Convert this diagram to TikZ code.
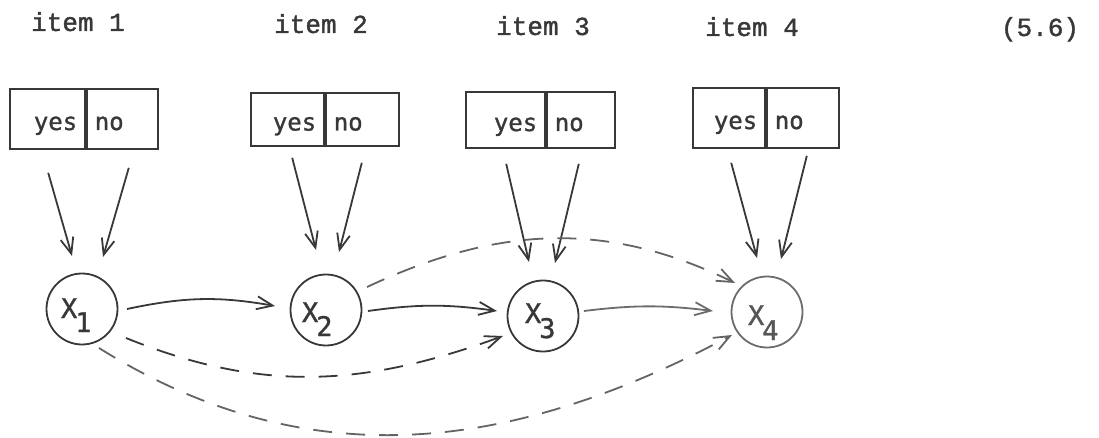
\documentclass[tikz,border=0pt]{standalone}
\usepackage{fontspec}
\newfontfamily\typ[BoldFont={Liberation Mono}, BoldFeatures={FakeBold=1.5}]{Liberation Mono}
\newfontfamily\gothic[BoldFont={DejaVu Sans Mono}, BoldFeatures={FakeBold=1.2}]{DejaVu Sans Mono}
\usetikzlibrary{arrows.meta,calc}
\definecolor{ink}{HTML}{383838}
\definecolor{inkl}{HTML}{6C6C6C}
\newcommand\xl[4]{\makebox[0pt][l]{\hspace*{#1pt}\raisebox{-#2pt}{X}\kern-2pt\raisebox{-#3pt}{#4}}}
\tikzset{
  lbl/.style={font=\typ\bfseries\fontsize{26}{26}\selectfont, text=ink, anchor=base, inner sep=0pt},
  cell/.style={draw=ink, line width=1.6pt, inner xsep=8pt, inner ysep=0pt,
    text height=22pt, text depth=0pt, font=\gothic\bfseries\fontsize{24}{24}\selectfont, text=ink},
  yescell/.style={cell, align=right, text width=#1, anchor=east},
  nocell/.style={cell, align=left, text width=#1, anchor=west},
  circ/.style={circle, draw=ink, line width=1.8pt, minimum size=71pt, inner sep=0pt,
    text height=0pt, text depth=0pt, font=\gothic\bfseries\fontsize{27}{27}\selectfont, text=ink},
  arr/.style={draw=ink, line width=1.8pt, -{Straight Barb[length=16pt,width=13pt,line width=1.8pt]}},
  dsh/.style={dash pattern=on 19pt off 14pt},
}
\begin{document}
\begin{tikzpicture}[x=1pt,y=1pt]
\useasboundingbox (0,0) rectangle (1099,-438);
% labels
\node[lbl] (i1) at (78,-31) {item 1};
\node[lbl] (i2) at (321,-33) {item 2};
\node[lbl] (i3) at (543,-35) {item 3};
\node[lbl] (i4) at (752,-36) {item 4};
\node[lbl] (eq) at (1040,-36) {(5.6)};
% boxes
\node[yescell=59pt, minimum height=60pt] (b1y) at (86,-119) {yes};
\node[nocell=55pt,  minimum height=60pt] (b1n) at (86,-119) {no};
\node[yescell=57pt, minimum height=53pt] (b2y) at (325,-119.5) {yes};
\node[nocell=57pt,  minimum height=53pt] (b2n) at (325,-119.5) {no};
\node[yescell=63pt, minimum height=56pt] (b3y) at (546,-120) {yes};
\node[nocell=52pt,  minimum height=56pt] (b3n) at (546,-120) {no};
\node[yescell=56pt, minimum height=60pt] (b4y) at (766,-118) {yes};
\node[nocell=56pt,  minimum height=60pt] (b4n) at (766,-118) {no};
% circles
\node[circ] (x1) at (82,-309) {\xl{-21}{9}{23}{1}};
\node[circ] (x2) at (326,-310) {\xl{-24}{12}{26}{2}};
\node[circ] (x3) at (543,-316) {\xl{-18}{7}{22}{3}};
\node[circ, draw=inkl, text=ink!85] (x4) at (767,-312) {\xl{-19}{13}{28}{4}};
% box arrows
\draw[arr] ($(b1y.south)+(0.5,-23)$) -- ($(x1)+(-10,53)$);
\draw[arr] ($(b1n.south)+(6.5,-18)$) -- ($(x1)+(21,52)$);
\draw[arr] ($(b2y.south)+(4.5,-11)$) -- ($(x2)+(-10,60)$);
\draw[arr] ($(b2n.south)+(-0.5,-16)$) -- ($(x2)+(13,58)$);
\draw[arr] ($(b3y.south)+(0.5,-15)$) -- ($(x3)+(-14,54)$);
\draw[arr] ($(b3n.south)+(-2,-15)$) -- ($(x3)+(12,53)$);
\draw[arr] ($(b4y.south)+(2,-14)$) -- ($(x4)+(-10,54)$);
\draw[arr] ($(b4n.south)+(4,-7)$) -- ($(x4)+(14,53)$);
% chain
\draw[arr] ($(x1)+(45,0)$) to[out=12,in=170] ($(x2)+(-51,4)$);
\draw[arr] ($(x2)+(42,-1)$) to[out=8,in=172] ($(x3)+(-46,5)$);
\draw[arr, draw=inkl] ($(x3)+(41,5)$) to[out=7,in=173] ($(x4)+(-54,1)$);
% skips
\draw[arr, dsh, draw=inkl!85!ink] ($(x2)+(41,23)$) to[out=25,in=154] ($(x4)+(-32,29)$);
\draw[arr, dsh] ($(x1)+(44,-29)$) to[out=-22,in=200] ($(x3)+(-40,-20)$);
\draw[arr, dsh, draw=inkl!85!ink] ($(x1)+(17,-39)$) to[out=-32,in=208] ($(x4)+(-35,-23)$);
\end{tikzpicture}
\end{document}
